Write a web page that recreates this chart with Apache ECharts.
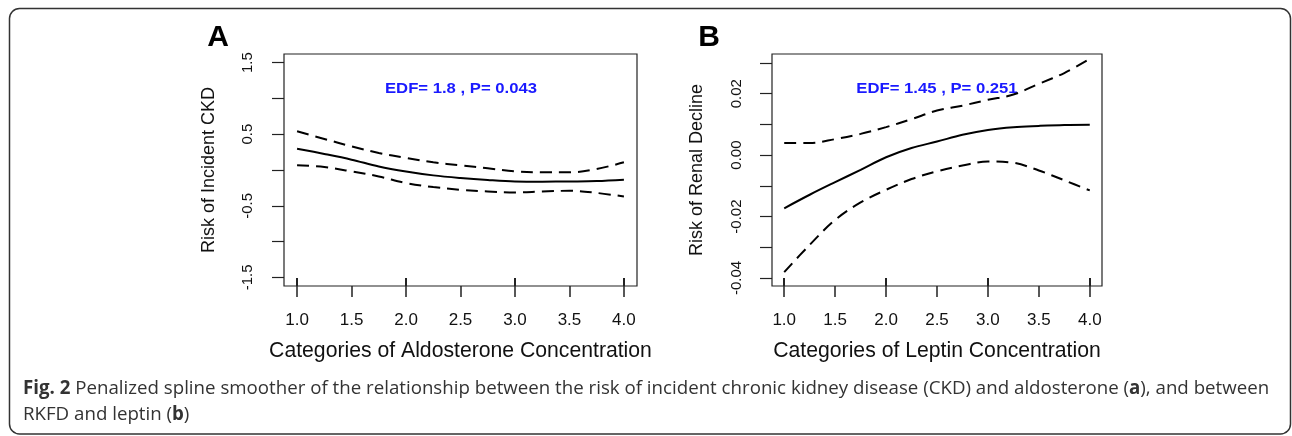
<!DOCTYPE html>
<html>
<head>
<meta charset="utf-8">
<script src="https://cdn.jsdelivr.net/npm/echarts@6/dist/echarts.min.js"></script>
<style>
html,body{margin:0;padding:0;background:#fff;}
#chart{width:1292px;height:436px;}
</style>
</head>
<body>
<div id="chart"></div>
<script>
// ---- data ----
const xValues = [1.0, 1.25, 1.5, 1.75, 2.0, 2.25, 2.5, 2.75, 3.0, 3.25, 3.5, 3.75, 4.0];

// Panel A: aldosterone vs risk of incident CKD
const aFit   = [0.298, 0.224, 0.144, 0.050, -0.020, -0.075, -0.112, -0.140, -0.160, -0.163, -0.160, -0.155, -0.136];
const aUpper = [0.540, 0.434, 0.330, 0.238, 0.168, 0.107, 0.065, 0.023, -0.020, -0.033, -0.033, 0.014, 0.107];
const aLower = [0.065, 0.042, -0.020, -0.090, -0.183, -0.238, -0.276, -0.300, -0.313, -0.300, -0.290, -0.320, -0.370];

// Panel B: leptin vs risk of renal decline
const bFit   = [-0.0173, -0.0129, -0.0088, -0.0048, -0.0007, 0.0023, 0.0044, 0.0066, 0.0082, 0.0091, 0.0095, 0.0098, 0.0099];
const bUpper = [0.0039, 0.0039, 0.0052, 0.0069, 0.0091, 0.0117, 0.0145, 0.0161, 0.0180, 0.0197, 0.0232, 0.0267, 0.0313];
const bLower = [-0.0381, -0.0292, -0.0211, -0.0154, -0.0113, -0.0078, -0.0053, -0.0034, -0.0021, -0.0025, -0.0050, -0.0082, -0.0115];

// rug (observed categories)
const rugValues = [1, 2, 3, 4];

// ticks
const xTicks = [1.0, 1.5, 2.0, 2.5, 3.0, 3.5, 4.0];
const aYTicks = [-1.5, -1.0, -0.5, 0, 0.5, 1.0, 1.5];
const aYLabels = [-1.5, -0.5, 0.5, 1.5];
const bYTicks = [-0.04, -0.03, -0.02, -0.01, 0, 0.01, 0.02, 0.03];
const bYLabels = [-0.04, -0.02, 0, 0.02];

// texts
const panelLetters = ['A', 'B'];
const annotations = ['EDF= 1.8 , P= 0.043', 'EDF= 1.45 , P= 0.251'];
const xTitles = ['Categories of Aldosterone Concentration', 'Categories of Leptin Concentration'];
const yTitles = ['Risk of Incident CKD', 'Risk of Renal Decline'];
const captionLine1 = '{b|Fig. 2} Penalized spline smoother of the relationship between the risk of incident chronic kidney disease (CKD) and aldosterone ({b|a}), and between';
const captionLine2 = 'RKFD and leptin ({b|b})';

const pair = (ys) => xValues.map((x, i) => [x, ys[i]]);

const FONT = 'Liberation Sans, Arial, sans-serif';
const AX = '#222';

function xAxisMain(gridIndex, title) {
  return {
    type: 'value', gridIndex, min: 0.88, max: 4.12,
    position: 'bottom',
    axisLine: { show: false, onZero: false },
    splitLine: { show: false },
    axisTick: { show: true, inside: false, length: 11, customValues: xTicks, lineStyle: { color: AX, width: 1.5 } },
    axisLabel: { show: true, margin: 26, customValues: xTicks, color: '#111', fontFamily: FONT, fontSize: 17,
      formatter: v => v.toFixed(1) },
    name: title, nameLocation: 'middle', nameGap: 55,
    nameTextStyle: { color: '#111', fontFamily: FONT, fontSize: 21.2 }
  };
}
function xAxisRug(gridIndex) {
  return {
    type: 'value', gridIndex, min: 0.88, max: 4.12, position: 'bottom',
    axisLine: { show: false, onZero: false }, splitLine: { show: false }, axisLabel: { show: false },
    axisTick: { show: true, inside: true, length: 8, customValues: rugValues, lineStyle: { color: AX, width: 2 } }
  };
}
function yAxis(gridIndex, min, max, ticks, labels, dec, title, margin) {
  return {
    type: 'value', gridIndex, min, max, position: 'left',
    axisLine: { show: false, onZero: false }, splitLine: { show: false },
    axisTick: { show: true, inside: false, length: 12, customValues: ticks, lineStyle: { color: AX, width: 1.2 } },
    axisLabel: { show: true, rotate: 90, margin, customValues: labels, color: '#111', fontFamily: FONT, fontSize: 15,
      formatter: v => v.toFixed(dec) },
    name: title, nameLocation: 'middle', nameGap: 66,
    nameTextStyle: { color: '#111', fontFamily: FONT, fontSize: 18 }
  };
}
function lineSeries(xi, yi, data, dashed) {
  return {
    type: 'line', xAxisIndex: xi, yAxisIndex: yi, data, smooth: 0.35, showSymbol: false, symbol: 'none',
    lineStyle: { color: '#000', width: 2, type: dashed ? [12, 7] : 'solid' },
    silent: true, animation: false
  };
}

const chart = echarts.init(document.getElementById('chart'), null, { renderer: 'canvas' });
chart.setOption({
  animation: false,
  backgroundColor: '#fff',
  grid: [
    { left: 284, top: 54, width: 353, height: 232, show: true, borderColor: '#222', borderWidth: 1.2, backgroundColor: 'transparent' },
    { left: 772, top: 54, width: 330, height: 232, show: true, borderColor: '#222', borderWidth: 1.2, backgroundColor: 'transparent' }
  ],
  xAxis: [xAxisMain(0, xTitles[0]), xAxisRug(0), xAxisMain(1, xTitles[1]), xAxisRug(1)],
  yAxis: [
    yAxis(0, -1.62, 1.62, aYTicks, aYLabels, 1, yTitles[0], 29),
    yAxis(1, -0.0426, 0.0329, bYTicks, bYLabels, 2, yTitles[1], 27.5)
  ],
  series: [
    lineSeries(0, 0, pair(aFit), false),
    lineSeries(0, 0, pair(aUpper), true),
    lineSeries(0, 0, pair(aLower), true),
    lineSeries(2, 1, pair(bFit), false),
    lineSeries(2, 1, pair(bUpper), true),
    lineSeries(2, 1, pair(bLower), true)
  ],
  graphic: [
    { type: 'rect', shape: { x: 9.5, y: 8.5, width: 1281, height: 425.5, r: 10 }, style: { fill: 'none', stroke: '#333', lineWidth: 1.5 }, silent: true },
    { type: 'text', x: 218, y: 38, style: { text: panelLetters[0], font: 'bold 30px ' + FONT, fill: '#000', align: 'center', verticalAlign: 'middle' } },
    { type: 'text', x: 709, y: 38, style: { text: panelLetters[1], font: 'bold 30px ' + FONT, fill: '#000', align: 'center', verticalAlign: 'middle' } },
    { type: 'text', x: 461, y: 89, scaleX: 1.15, style: { text: annotations[0], font: 'bold 14.5px ' + FONT, fill: '#1a1aff', align: 'center', verticalAlign: 'middle' } },
    { type: 'text', x: 937, y: 89, scaleX: 1.15, style: { text: annotations[1], font: 'bold 14.5px ' + FONT, fill: '#1a1aff', align: 'center', verticalAlign: 'middle' } },
    { type: 'text', x: 23, y: 389, style: { text: captionLine1, font: '18.7px "Open Sans", sans-serif', fill: '#333', verticalAlign: 'middle',
      rich: { b: { fontWeight: 'bold', fontFamily: 'Open Sans', fontSize: 18.7, fill: '#333' } } } },
    { type: 'text', x: 23, y: 415, style: { text: captionLine2, font: '18.7px "Open Sans", sans-serif', fill: '#333', verticalAlign: 'middle',
      rich: { b: { fontWeight: 'bold', fontFamily: 'Open Sans', fontSize: 18.7, fill: '#333' } } } }
  ]
});
</script>
</body>
</html>
